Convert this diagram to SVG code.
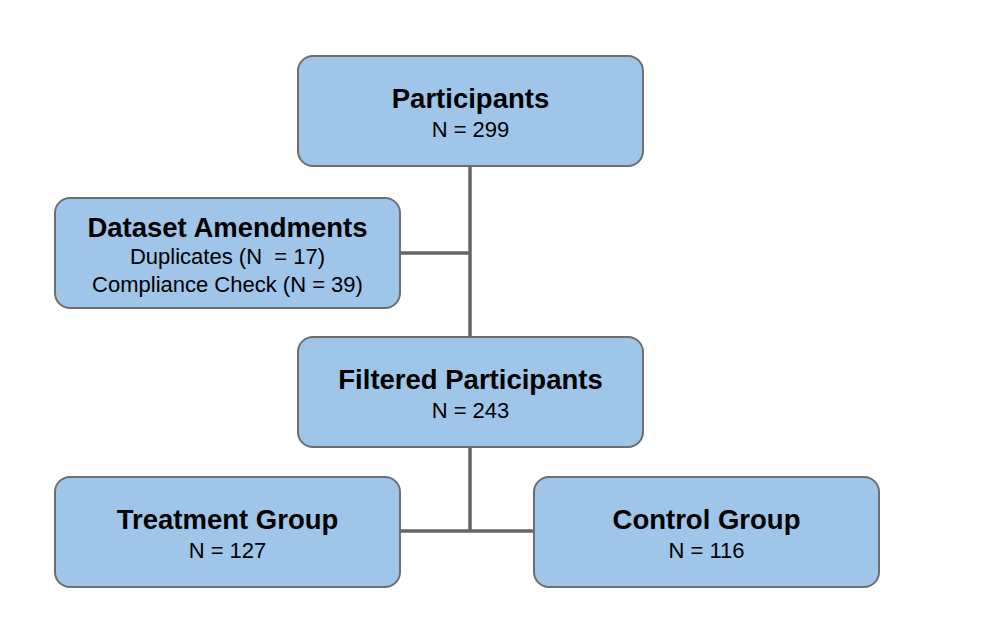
<svg xmlns="http://www.w3.org/2000/svg" width="986" height="632" viewBox="0 0 986 632">
<style>
.box{fill:#9fc5e8;stroke:#6e6e6e;stroke-width:2}
.t{font-family:"Liberation Sans",Arial,sans-serif;font-weight:bold;font-size:27.5px;fill:#000;text-anchor:middle}
.s{font-family:"Liberation Sans",Arial,sans-serif;font-size:22px;fill:#000;text-anchor:middle}
.c{stroke:#656565;stroke-width:3.5;fill:none}
</style>
<rect width="986" height="632" fill="#ffffff"/>
<g id="connectors">
<line class="c" x1="470" y1="166" x2="470" y2="338"/>
<line class="c" x1="400" y1="253" x2="470" y2="253"/>
<line class="c" x1="470" y1="447" x2="470" y2="531"/>
<line class="c" x1="400" y1="531" x2="534" y2="531"/>
</g>
<g id="participants">
<rect class="box" x="298" y="56" width="345" height="110" rx="15"/>
<text class="t" x="470.5" y="108">Participants</text>
<text class="s" x="470.5" y="136.5">N = 299</text>
</g>
<g id="amendments">
<rect class="box" x="55" y="198" width="345" height="110" rx="15"/>
<text class="t" x="227.5" y="236.5">Dataset Amendments</text>
<text class="s" x="227.5" y="264" xml:space="preserve">Duplicates (N  = 17)</text>
<text class="s" x="227.5" y="291.5">Compliance Check (N = 39)</text>
</g>
<g id="filtered">
<rect class="box" x="298" y="337" width="345" height="110" rx="15"/>
<text class="t" x="470.5" y="389">Filtered Participants</text>
<text class="s" x="470.5" y="417.5">N = 243</text>
</g>
<g id="treatment">
<rect class="box" x="55" y="477" width="345" height="110" rx="15"/>
<text class="t" x="227.5" y="529">Treatment Group</text>
<text class="s" x="227.5" y="557.5">N = 127</text>
</g>
<g id="control">
<rect class="box" x="534" y="477" width="345" height="110" rx="15"/>
<text class="t" x="706.5" y="529">Control Group</text>
<text class="s" x="706.5" y="557.5">N = 116</text>
</g>
</svg>
